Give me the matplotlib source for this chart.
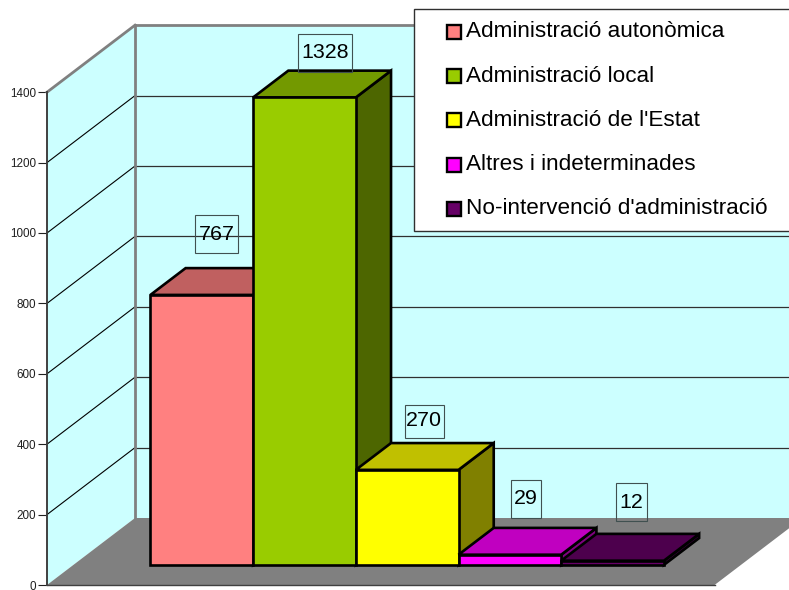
import matplotlib
matplotlib.use("Agg")
import matplotlib.pyplot as plt
from matplotlib.patches import Polygon, Rectangle
from matplotlib.transforms import Affine2D

plt.rcParams['font.family'] = ['Liberation Sans', 'DejaVu Sans']

categories = ["Administració autonòmica", "Administració local", "Administració de l'Estat",
              "Altres i indeterminades", "No-intervenció d'administració"]
values = [767, 1328, 270, 29, 12]
yticks = [0, 200, 400, 600, 800, 1000, 1200, 1400]

colors_front = ['#FF8080', '#99CC00', '#FFFF00', '#FF00FF', '#660066']
colors_top = ['#C06060', '#739900', '#C0C000', '#C000C0', '#4D004D']
colors_side = ['#804040', '#4D6600', '#808000', '#800080', '#330033']

W, H = 789, 590
BAR_PX = 102.7      # pixels per category
PX_PER_UNIT = 0.352  # pixels per value unit
X0, Y0 = 47, 585    # front left corner of the floor, pixels
DEPTH_X, DEPTH_Y = 88, 67  # full depth of the box, pixels
FLOOR_LEN = 6.5
GAP = 0.75
BAR_D0, BAR_D1 = 0.30, 0.70

# centre of each value box, pixels from top left
label_pos = [(216.5, 234), (325, 53), (424, 421), (526, 499), (631, 502)]
label_size = [(43, 38), (54, 38), (39, 33), (30, 38), (31, 38)]


def proj(x, d, v):
    # oblique projection: depth d moves the point back and up
    return x + d * DEPTH_X / BAR_PX, v + d * DEPTH_Y / PX_PER_UNIT


def box_face(ax, pts, fc, ec='black', lw=1.9, z=3):
    ax.add_patch(Polygon([proj(*p) for p in pts], closed=True, fc=fc, ec=ec, lw=lw,
                         joinstyle='miter', zorder=z))


fig = plt.figure(figsize=(W / 100, H / 100), dpi=100)
ax = fig.add_axes([0, 0, 1, 1])
ax.set_xlim(-X0 / BAR_PX, (W - X0) / BAR_PX)
ax.set_ylim((Y0 - H) / PX_PER_UNIT, Y0 / PX_PER_UNIT)
ax.patch.set_visible(False)

# walls and floor
top = yticks[-1]
box_face(ax, [(0, 0, 0), (0, 1, 0), (0, 1, top), (0, 0, top)], '#CCFFFF', ec='none', lw=0, z=1)
box_face(ax, [(0, 1, 0), (FLOOR_LEN, 1, 0), (FLOOR_LEN, 1, top), (0, 1, top)], '#CCFFFF', ec='none', lw=0, z=1)
box_face(ax, [(0, 0, 0), (0, 1, 0), (FLOOR_LEN, 1, 0), (FLOOR_LEN, 0, 0)], '#808080', ec='none', lw=0, z=1)

# gridlines
for v in yticks[1:-1]:
    xs, ys = zip(proj(0, 0, v), proj(0, 1, v))
    ax.plot(xs, ys, color='black', lw=0.8, zorder=2)
    xs, ys = zip(proj(0, 1, v), proj(FLOOR_LEN, 1, v))
    ax.plot(xs, ys, color='#303030', lw=0.9, zorder=2)

# grey outline of the box
for a, b in [((0, 0, top), (0, 1, top)), ((0, 1, top), (FLOOR_LEN, 1, top)), ((0, 1, 0), (0, 1, top))]:
    xs, ys = zip(proj(*a), proj(*b))
    ax.plot(xs, ys, color='#808080', lw=2.0, zorder=2)

# bars
for i, v in enumerate(values):
    x0, x1 = GAP + i, GAP + i + 1
    box_face(ax, [(x1, BAR_D0, 0), (x1, BAR_D1, 0), (x1, BAR_D1, v), (x1, BAR_D0, v)], colors_side[i], z=3 + i)
    box_face(ax, [(x0, BAR_D0, v), (x0, BAR_D1, v), (x1, BAR_D1, v), (x1, BAR_D0, v)], colors_top[i], z=3 + i)
    box_face(ax, [(x0, BAR_D0, 0), (x1, BAR_D0, 0), (x1, BAR_D0, v), (x0, BAR_D0, v)], colors_front[i], z=3 + i)

# axes
for s in ['top', 'right']:
    ax.spines[s].set_visible(False)
ax.spines['left'].set_position(('data', 0))
ax.spines['left'].set_bounds(0, top)
ax.spines['left'].set_color('#404040')
ax.spines['left'].set_linewidth(1.4)
ax.spines['bottom'].set_position(('data', 0))
ax.spines['bottom'].set_bounds(0, FLOOR_LEN)
ax.spines['bottom'].set_color('#404040')
ax.spines['bottom'].set_linewidth(1.0)
for sp in ax.spines.values():
    sp.set_zorder(2.5)
ax.set_xticks([])
ax.set_yticks(yticks)
ax.tick_params(axis='y', length=6.5, width=0.8, pad=1.5, labelsize=8.4, color='#202020', labelcolor='#202020')

# pixel transform for the boxes, origin at top left
px = Affine2D().scale(1, -1).translate(0, H)

for v, (cx, cy), (bw, bh) in zip(values, label_pos, label_size):
    ax.add_patch(Rectangle((cx - bw / 2, cy - bh / 2), bw, bh, transform=px, fc='none',
                           ec='#405050', lw=0.8, zorder=20))
    ax.text(cx, cy, str(v), transform=px, ha='center', va='center', fontsize=15.4, color='black', zorder=21)

# legend
ax.add_patch(Rectangle((414, 9), 400, 222, transform=px, fc='white', ec='#303030', lw=1.0, zorder=30))
legend_y = [31.5, 76, 120, 164.5, 208.5]
for name, c, ly in zip(categories, colors_front, legend_y):
    ax.add_patch(Rectangle((446.5, ly - 7), 14, 14, transform=px, fc=c, ec='black', lw=1.7, zorder=31))
    ax.text(466, ly, name, transform=px, ha='left', va='center', fontsize=16.2, color='black', zorder=31)

fig.savefig('out.png', dpi=100)
